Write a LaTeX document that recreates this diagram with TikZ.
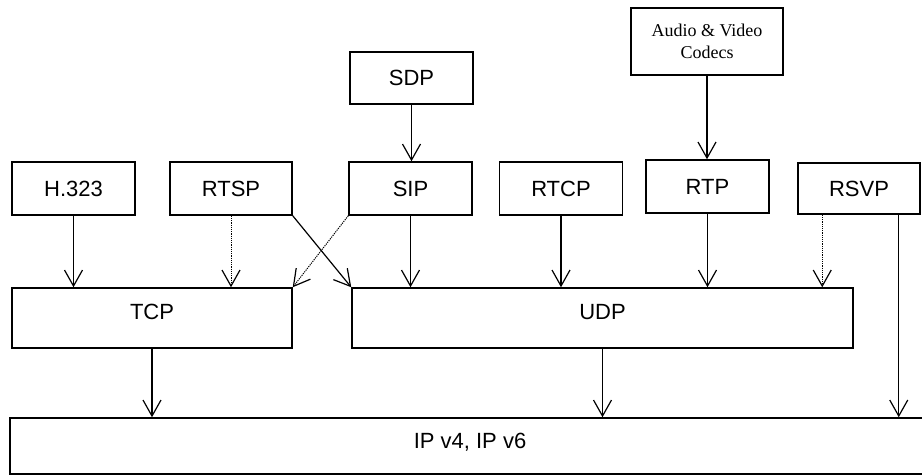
\documentclass[tikz,border=0pt]{standalone}
\usepackage{fontspec}
\setmainfont{Liberation Sans}
\newfontfamily\serifcodec{Liberation Serif}
\usetikzlibrary{arrows.meta}
\tikzset{
  box/.style={draw, line width=1.5pt, inner sep=0pt, font=\fontsize{22}{26}\selectfont},
  arr/.style={line width=1.2pt, -{Straight Barb[length=16pt,width=18pt,line width=1.2pt]}},
  dotarr/.style={arr, densely dotted, line width=1pt}
}
\begin{document}
\begin{tikzpicture}[x=1pt,y=-1pt]
\useasboundingbox (0,0) rectangle (922,475);
\clip (0,0) rectangle (922,475);
% nodes
\node[box, minimum width=152pt, minimum height=67pt, align=center, font=\serifcodec\fontsize{18}{22}\selectfont] (codec) at (707,41.5) {Audio \& Video\\Codecs};
\node[box, minimum width=123pt, minimum height=52pt] (sdp) at (411.5,78) {SDP};
\node[box, minimum width=123pt, minimum height=53pt] (h323) at (73.5,188.5) {H.323};
\node[box, minimum width=122pt, minimum height=53pt] (rtsp) at (231,188.5) {RTSP};
\node[box, minimum width=123pt, minimum height=53pt] (sip) at (410.5,188.5) {SIP};
\node[box, minimum width=123pt, minimum height=53pt] (rtcp) at (561,188.5) {RTCP};
\node[box, minimum width=123pt, minimum height=53pt] (rtp) at (707.5,186.5) {RTP};
\node[box, minimum width=122pt, minimum height=51pt] (rsvp) at (859,188.5) {RSVP};
\node[box, minimum width=280pt, minimum height=60pt, text height=16pt, text depth=14pt] (tcp) at (152,318) {TCP};
\node[box, minimum width=501pt, minimum height=60pt, text height=16pt, text depth=14pt] (udp) at (602.5,318) {UDP};
\node[box, minimum width=920pt, minimum height=56pt, text height=16pt, text depth=12pt] (ip) at (470,446) {IP v4, IP v6};
% helper coordinates
\coordinate (rs1) at ([xshift=25pt]rsvp.south west);
\coordinate (rs2) at ([xshift=-22pt]rsvp.south east);
% connectors
\draw[arr] (codec.south) -- (codec.south |- rtp.north);
\draw[arr] (sdp.south) -- (sdp.south |- sip.north);
\draw[arr] (h323.south) -- (h323.south |- tcp.north);
\draw[dotarr] (rtsp.south) -- (rtsp.south |- tcp.north);
\draw[dotarr] (sip.south west) -- (tcp.north east);
\draw[arr] (rtsp.south east) -- (udp.north west);
\draw[arr] (sip.south) -- (sip.south |- udp.north);
\draw[arr] (rtcp.south) -- (rtcp.south |- udp.north);
\draw[arr] (rtp.south) -- (rtp.south |- udp.north);
\draw[dotarr] (rs1) -- (rs1 |- udp.north);
\draw[arr] (rs2) -- (rs2 |- ip.north);
\draw[arr] (tcp.south) -- (tcp.south |- ip.north);
\draw[arr] (udp.south) -- (udp.south |- ip.north);
\end{tikzpicture}
\end{document}
